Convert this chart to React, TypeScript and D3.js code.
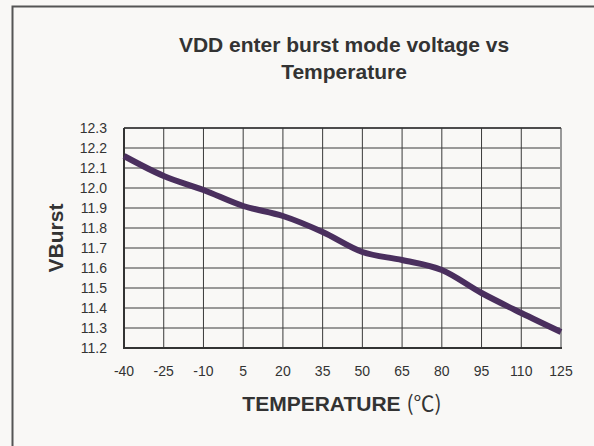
import React from 'react';
import * as d3 from 'd3';

// temperature (°C) vs VDD burst-mode entry voltage
const temps = [-40, -25, -10, 5, 20, 35, 50, 65, 80, 95, 110, 125];
const vburst = [12.16, 12.06, 11.99, 11.91, 11.86, 11.78, 11.68, 11.64, 11.59, 11.475, 11.375, 11.28];
const yTicks = [11.2, 11.3, 11.4, 11.5, 11.6, 11.7, 11.8, 11.9, 12.0, 12.1, 12.2, 12.3];

const W = 594;
const H = 446;
const margin = { top: 128, right: 33, bottom: 98, left: 124 };
const font = '"Liberation Sans", Arial, sans-serif';

const App: React.FC = () => {
  const innerW = W - margin.left - margin.right;
  const innerH = H - margin.top - margin.bottom;

  const x = d3.scaleLinear().domain([-40, 125]).range([0, innerW]);
  const y = d3.scaleLinear().domain([11.2, 12.3]).range([innerH, 0]);

  const line = d3.line<number>()
    .x((_, i) => x(temps[i]))
    .y(d => y(d))
    .curve(d3.curveMonotoneX);

  return (
    <div style={{ position: 'absolute', left: 0, top: 0 }}>
      <svg width={W} height={H} style={{ display: 'block', fontFamily: font }}>
        <rect width={W} height={H} fill="#f9f8f6" />
        {/* outer frame, right and bottom edges fall outside the picture */}
        <rect x={12.5} y={6.5} width={620} height={500} fill="none" stroke="#555" strokeWidth={2} />

        <text x={344} y={52} textAnchor="middle" fontSize={21} fontWeight="bold" fill="#333">
          VDD enter burst mode voltage vs
        </text>
        <text x={344} y={79} textAnchor="middle" fontSize={21} fontWeight="bold" fill="#333">
          Temperature
        </text>

        <g transform={`translate(${margin.left},${margin.top})`}>
          {/* grid */}
          {yTicks.map(t => (
            <line key={'h' + t} x1={0} x2={innerW} y1={y(t)} y2={y(t)} stroke="#3a3a3a" strokeWidth={1} />
          ))}
          {temps.map(t => (
            <line key={'v' + t} x1={x(t)} x2={x(t)} y1={0} y2={innerH} stroke="#3a3a3a" strokeWidth={1} />
          ))}
          {/* plot frame */}
          <line x1={innerW} x2={innerW} y1={0} y2={innerH} stroke="#999" strokeWidth={2} />
          <line x1={0} x2={innerW} y1={0} y2={0} stroke="#333" strokeWidth={1.5} />
          <line x1={0} x2={0} y1={0} y2={innerH + 1} stroke="#333" strokeWidth={2} />
          <line x1={0} x2={innerW + 1} y1={innerH} y2={innerH} stroke="#333" strokeWidth={2} />

          <path d={line(vburst) ?? ''} fill="none" stroke="#4a2f5e" strokeWidth={6} strokeLinejoin="round" />

          {/* y tick labels */}
          {yTicks.map(t => (
            <text key={'yl' + t} x={-17} y={y(t)} dy="0.35em" textAnchor="end" fontSize={14} fill="#333">
              {t.toFixed(1)}
            </text>
          ))}
          {/* x tick labels */}
          {temps.map(t => (
            <text key={'xl' + t} x={x(t)} y={innerH + 28} textAnchor="middle" fontSize={14} fill="#333">
              {t}
            </text>
          ))}
        </g>

        <text x={342} y={411} textAnchor="middle" fontSize={21} fontWeight="bold" fill="#333">
          TEMPERATURE <tspan fontWeight="normal" fontFamily='"Noto Sans CJK SC", sans-serif'>(℃)</tspan>
        </text>
        <text transform={`translate(63,${margin.top + innerH / 2}) rotate(-90)`} textAnchor="middle" fontSize={21} fontWeight="bold" fill="#333">
          VBurst
        </text>
      </svg>
    </div>
  );
};

export default App;
